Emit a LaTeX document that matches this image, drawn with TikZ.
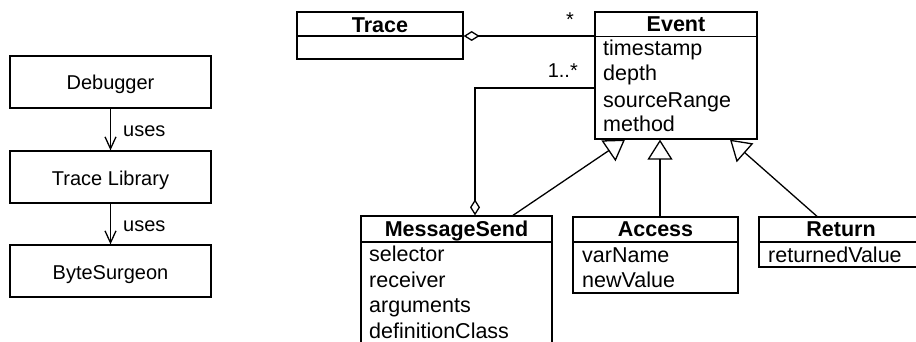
\documentclass[tikz,border=0pt]{standalone}
\usepackage{fontspec}
\setmainfont{Liberation Sans}
\usetikzlibrary{arrows.meta}
\tikzset{
  aggdiamond/.tip={Diamond[open,length=16pt,width=10pt,line width=1.3pt]},
  usesbarb/.tip={Straight Barb[length=12pt,width=11pt,line width=1.3pt]},
  inhtri/.tip={Triangle[open,length=20pt,width=25pt,line width=1.3pt]},
}
\begin{document}
\begin{tikzpicture}[x=1pt,y=-1pt,
  lw/.style={line width=1.3pt},
  box/.style={draw, lw, rectangle, inner sep=0pt},
  umltxt/.style={inner sep=0pt, font=\fontsize{21.5}{25}\selectfont, text height=15.5pt, text depth=4.5pt},
  hdr/.style={umltxt, font=\fontsize{21.5}{25}\selectfont\bfseries},
  attr/.style={umltxt, anchor=west},
  lefttxt/.style={inner sep=0pt, font=\fontsize{20}{24}\selectfont, text height=14.5pt, text depth=4.2pt},
  usesarrow/.style={lw, -usesbarb},
  inh/.style={lw, -inhtri},
]
\useasboundingbox (0,0) rectangle (916,342);
\clip (0,0) rectangle (916,342);

% ---- left stack
\node[box, minimum width=201pt, minimum height=52pt] (dbg) at (110.5,82) {};
\node[lefttxt] (dbgt) at (110.5,84.8) {Debugger};
\node[box, minimum width=201pt, minimum height=52pt] (tl) at (110.5,177) {};
\node[lefttxt] (tlt) at (110.5,179.9) {Trace Library};
\node[box, minimum width=201pt, minimum height=52pt] (bs) at (110.5,271) {};
\node[lefttxt] (bst) at (110.5,274.2) {ByteSurgeon};
\draw[usesarrow] (dbg) -- node[lefttxt, anchor=west, xshift=12pt, yshift=-2pt] (u1) {uses} (tl);
\draw[usesarrow] (tl) -- node[lefttxt, anchor=west, xshift=12pt, yshift=-2pt] (u2) {uses} (bs);

% ---- Trace
\node[box, minimum width=166pt, minimum height=47pt] (tr) at (380,35.5) {};
\draw[lw] (tr.west |- 0,36) -- (tr.east |- 0,36);
\node[hdr] (trh) at (380,26.8) {Trace};

% ---- Event
\node[box, minimum width=162pt, minimum height=127pt] (ev) at (676,75.5) {};
\draw[lw] (ev.west |- 0,36.5) -- (ev.east |- 0,36.5);
\node[hdr] (evh) at (676,26.2) {Event};
\node[attr] (ev1) at (603,50.5) {timestamp};
\node[attr] (ev2) at (603,75.5) {depth};
\node[attr] (ev3) at (603,102) {sourceRange};
\node[attr] (ev4) at (603,126.3) {method};

% ---- MessageSend
\node[box, minimum width=191pt, minimum height=134pt] (ms) at (456.5,283) {};
\draw[lw] (ms.west |- 0,242) -- (ms.east |- 0,242);
\node[hdr] (msh) at (456.5,231) {MessageSend};
\node[attr] (ms1) at (369,255.5) {selector};
\node[attr] (ms2) at (369,281.8) {receiver};
\node[attr] (ms3) at (369,306.8) {arguments};
\node[attr] (ms4) at (369,332.8) {definitionClass};

% ---- Access
\node[box, minimum width=165pt, minimum height=76pt] (ac) at (655.5,255) {};
\draw[lw] (ac.west |- 0,242) -- (ac.east |- 0,242);
\node[hdr] (ach) at (655.5,231.2) {Access};
\node[attr] (ac1) at (582,257.2) {varName};
\node[attr] (ac2) at (582,281.8) {newValue};

% ---- Return
\node[box, minimum width=164pt, minimum height=50pt] (rt) at (841,242) {};
\draw[lw] (rt.west |- 0,242) -- (rt.east |- 0,242);
\node[hdr] (rth) at (841,231.2) {Return};
\node[attr] (rt1) at (768,257.2) {returnedValue};

% ---- associations
\draw[lw, aggdiamond-] (tr.east |- 0,36) -- (ev.west |- 0,36);
\node[lefttxt] (m1) at (570,21) {*};
\node[lefttxt, anchor=east] (m2) at (578,72.2) {1..*};
\draw[lw, -aggdiamond] (ev.west |- 0,88) -| ([xshift=18.5pt]ms.north);

% ---- generalizations
\draw[inh] ([xshift=56.5pt]ms.north) -- ([xshift=-51pt]ev.south);
\draw[inh] ([xshift=4.5pt]ac.north) -- ([xshift=-16pt]ev.south);
\draw[inh] ([xshift=-24pt]rt.north) -- ([xshift=54pt]ev.south);
\end{tikzpicture}
\end{document}
